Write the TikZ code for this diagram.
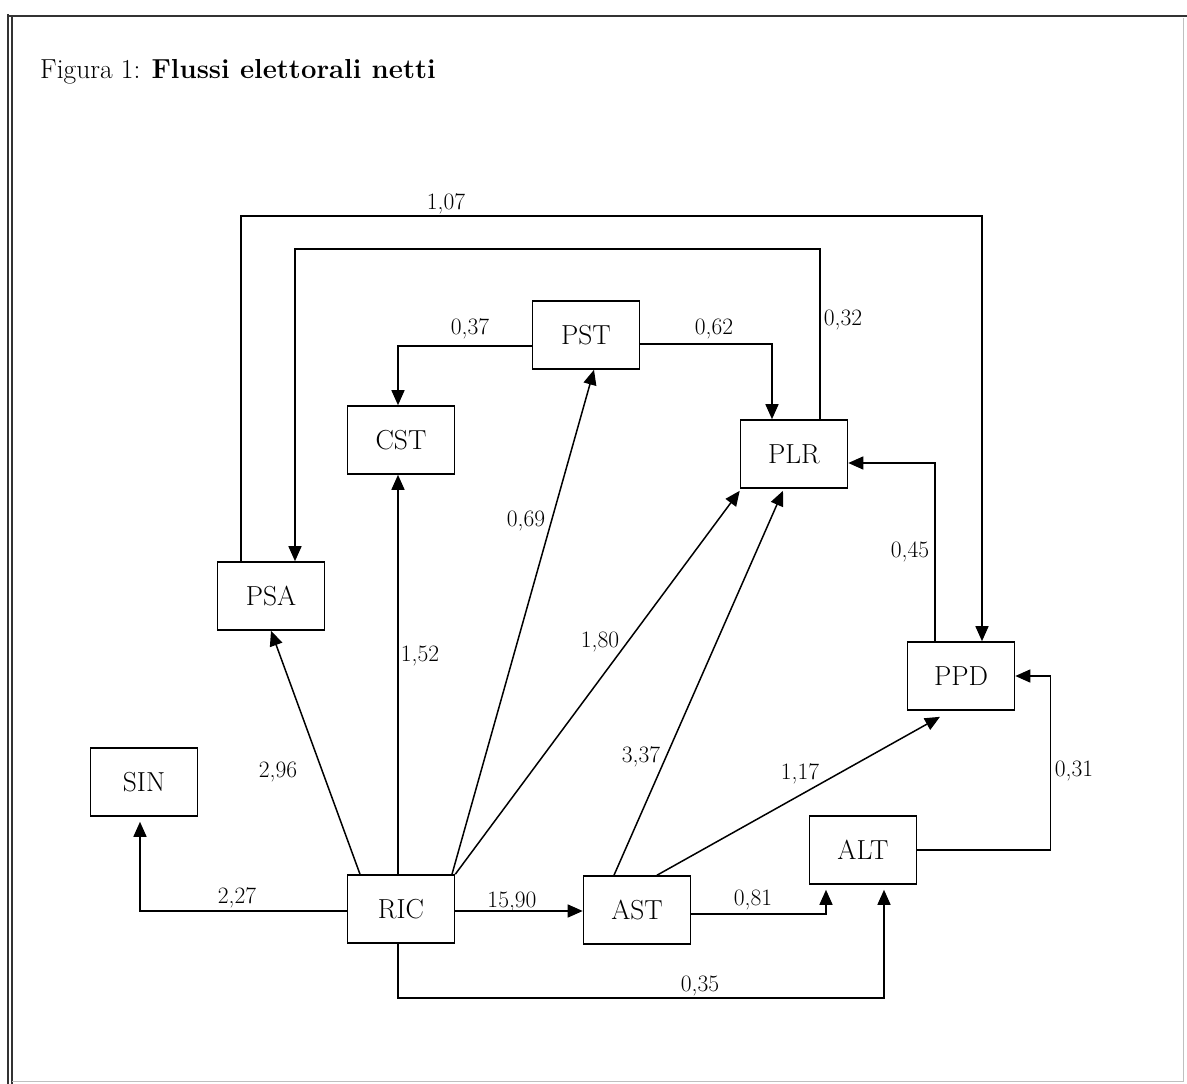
\documentclass[tikz,border=0pt]{standalone}
\usetikzlibrary{arrows.meta}
\begin{document}
\begin{tikzpicture}[x=1pt,y=-1pt,
  box/.style={draw,line width=1.6pt,minimum width=107pt,minimum height=68pt,inner sep=0pt,font=\fontsize{27.5}{30}\selectfont},
  arr/.style={line width=1.5pt,-{Triangle[length=15pt,width=13pt]}},
  lab/.style={font=\fontsize{23.5}{26}\selectfont,inner sep=0pt}]
\useasboundingbox (0,0) rectangle (1187,1084);
% frame
\draw[line width=2.5pt,black!80] (8,16) -- (1187,16);
\draw[line width=1.2pt,black!80] (8,14) -- (8,1084);
\draw[line width=1.2pt,black!80] (12,16) -- (12,1084);
\draw[line width=1pt,black!25] (1183,18) -- (1183,1082);
\draw[line width=1pt,black!25] (12,1081) -- (1183,1081);
% title
\node[anchor=base west,inner sep=0pt,font=\fontsize{27.5}{30}\selectfont] (title) at (40,78) {Figura 1: \textbf{Flussi elettorali netti}};
% nodes
\node[box] (PST) at (586,335) {PST};
\node[box] (CST) at (401,440) {CST};
\node[box] (PLR) at (794,454) {PLR};
\node[box] (PSA) at (271,596) {PSA};
\node[box] (PPD) at (961,676) {PPD};
\node[box] (SIN) at (144,782) {SIN};
\node[box] (ALT) at (863,850) {ALT};
\node[box] (RIC) at (401,909) {RIC};
\node[box] (AST) at (637,910) {AST};
% connectors
\draw[arr] ([xshift=-30pt]PSA.north) -- ++(0,-345) -| ([xshift=21pt]PPD.north);
\draw[arr] ([xshift=26pt]PLR.north) -- ++(0,-170) -| ([xshift=24pt]PSA.north);
\draw[arr] ([yshift=-11pt]PST.west) -| ([xshift=-3pt]CST.north);
\draw[arr] ([yshift=-9pt]PST.east) -| ([xshift=-22pt]PLR.north);
\draw[arr] ([xshift=51pt]RIC.north) -- ([xshift=8pt]PST.south);
\draw[arr] ([xshift=-3pt]RIC.north) -- ([xshift=-3pt]CST.south);
\draw[arr] ([xshift=-41pt]RIC.north) -- (PSA.south);
\draw[arr] (RIC.north east) -- ([yshift=-2pt]PLR.south west);
\draw[arr] ([xshift=-23pt]AST.north) -- ([xshift=-11pt,yshift=-2pt]PLR.south);
\draw[arr] ([xshift=20pt]AST.north) -- ([xshift=-21pt,yshift=-6pt]PPD.south);
\draw[arr] ([xshift=-26pt]PPD.north) |- ([yshift=-9pt]PLR.east);
\draw[arr] (ALT.east) -- ++(133,0) |- (PPD.east);
\draw[arr] ([yshift=-2pt]RIC.west) -| ([xshift=-4pt,yshift=-5pt]SIN.south);
\draw[arr] ([yshift=-2pt]RIC.east) -- ([yshift=-1pt]AST.west);
\draw[arr] ([yshift=-4pt]AST.east) -| ([xshift=-37pt,yshift=-5pt]ALT.south);
\draw[arr] ([xshift=-3pt]RIC.south) -- ++(0,54) -| ([xshift=21pt,yshift=-5pt]ALT.south);
% labels
\node[lab] (l107) at (446,204) {1,07};
\node[lab] (l032) at (843,320) {0,32};
\node[lab] (l037) at (470,329) {0,37};
\node[lab] (l062) at (714,329) {0,62};
\node[lab] (l069) at (526,521) {0,69};
\node[lab] (l152) at (420,656) {1,52};
\node[lab] (l296) at (278,772) {2,96};
\node[lab] (l180) at (600,642) {1,80};
\node[lab] (l337) at (641,757) {3,37};
\node[lab] (l117) at (800,774) {1,17};
\node[lab] (l045) at (910,552) {0,45};
\node[lab] (l031) at (1074,771) {0,31};
\node[lab] (l227) at (237,898) {2,27};
\node[lab] (l1590) at (512,902) {15,90};
\node[lab] (l081) at (753,900) {0,81};
\node[lab] (l035) at (700,986) {0,35};
\end{tikzpicture}
\end{document}
